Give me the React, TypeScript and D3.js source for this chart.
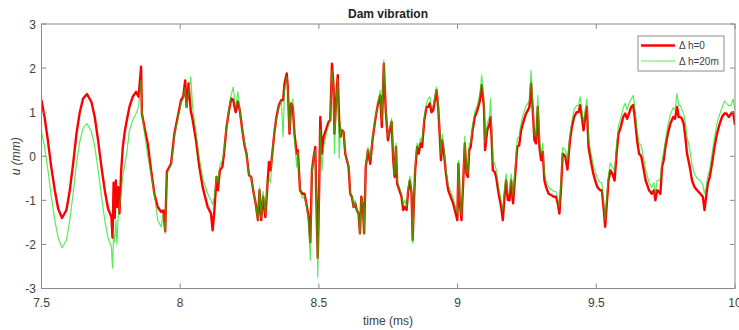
import React from "react";
import * as d3 from "d3";

const time = [
  7.5, 7.511, 7.523, 7.535, 7.548, 7.56, 7.574, 7.59, 7.602, 7.614, 7.626, 7.638, 7.65, 7.664, 7.68, 7.692, 7.704, 7.716, 7.728, 7.74,
  7.752, 7.756, 7.76, 7.764, 7.768, 7.772, 7.776, 7.781, 7.787, 7.793, 7.8, 7.807, 7.817, 7.829, 7.841, 7.85, 7.859, 7.862, 7.871, 7.883,
  7.895, 7.907, 7.919, 7.931, 7.939, 7.946, 7.952, 7.967, 7.979, 7.991, 8.003, 8.011, 8.018, 8.023, 8.03, 8.038, 8.045, 8.057, 8.069, 8.081,
  8.099, 8.111, 8.117, 8.123, 8.131, 8.136, 8.143, 8.152, 8.158, 8.167, 8.176, 8.184, 8.191, 8.2, 8.208, 8.215, 8.224, 8.232, 8.239, 8.248,
  8.256, 8.263, 8.272, 8.28, 8.286, 8.292, 8.299, 8.307, 8.314, 8.32, 8.326, 8.332, 8.339, 8.347, 8.356, 8.364, 8.371, 8.376, 8.384, 8.388,
  8.394, 8.4, 8.406, 8.412, 8.42, 8.424, 8.432, 8.44, 8.448, 8.457, 8.463, 8.469, 8.475, 8.481, 8.487, 8.493, 8.496, 8.501, 8.505, 8.511,
  8.517, 8.525, 8.535, 8.541, 8.547, 8.553, 8.556, 8.562, 8.568, 8.573, 8.578, 8.583, 8.589, 8.595, 8.601, 8.607, 8.613, 8.619, 8.625, 8.631,
  8.637, 8.643, 8.648, 8.653, 8.659, 8.663, 8.669, 8.677, 8.685, 8.693, 8.703, 8.713, 8.721, 8.727, 8.734, 8.741, 8.749, 8.753, 8.762, 8.768,
  8.773, 8.778, 8.782, 8.79, 8.798, 8.804, 8.81, 8.816, 8.822, 8.828, 8.834, 8.838, 8.842, 8.847, 8.854, 8.86, 8.866, 8.872, 8.88, 8.888,
  8.894, 8.9, 8.906, 8.912, 8.918, 8.924, 8.93, 8.936, 8.94, 8.945, 8.951, 8.958, 8.966, 8.975, 8.984, 8.993, 8.999, 9.003, 9.008, 9.014,
  9.02, 9.026, 9.032, 9.037, 9.042, 9.047, 9.054, 9.062, 9.071, 9.08, 9.087, 9.095, 9.099, 9.107, 9.115, 9.119, 9.124, 9.127, 9.133, 9.139,
  9.148, 9.157, 9.163, 9.169, 9.175, 9.181, 9.187, 9.193, 9.2, 9.208, 9.215, 9.222, 9.229, 9.239, 9.247, 9.253, 9.259, 9.265, 9.271, 9.277,
  9.283, 9.289, 9.295, 9.301, 9.307, 9.313, 9.319, 9.328, 9.337, 9.347, 9.355, 9.361, 9.367, 9.373, 9.379, 9.388, 9.396, 9.405, 9.412, 9.42,
  9.429, 9.436, 9.442, 9.448, 9.454, 9.46, 9.466, 9.472, 9.48, 9.489, 9.496, 9.504, 9.514, 9.52, 9.526, 9.532, 9.538, 9.544, 9.551, 9.558,
  9.566, 9.573, 9.58, 9.588, 9.597, 9.604, 9.611, 9.618, 9.626, 9.633, 9.64, 9.647, 9.654, 9.662, 9.669, 9.678, 9.69, 9.7, 9.708, 9.713,
  9.719, 9.725, 9.731, 9.737, 9.743, 9.749, 9.758, 9.767, 9.777, 9.784, 9.791, 9.797, 9.803, 9.809, 9.815, 9.821, 9.827, 9.837, 9.845, 9.854,
  9.863, 9.875, 9.884, 9.89, 9.896, 9.902, 9.909, 9.917, 9.926, 9.935, 9.945, 9.953, 9.962, 9.969, 9.978, 9.986, 9.993, 10.0,
];

const uDh0 = [
  1.27, 0.89, 0.36, -0.24, -0.77, -1.19, -1.4, -1.22, -0.77, -0.17, 0.51, 1.0, 1.31, 1.41, 1.23, 0.89, 0.36, -0.24, -0.77, -1.19,
  -1.38, -1.85, -0.6, -1.4, -0.55, -1.15, -0.7, -1.3, -0.35, 0.2, 0.55, 0.8, 1.12, 1.35, 1.46, 1.35, 2.03, 0.97, 0.66, 0.29,
  -0.32, -0.85, -1.15, -1.26, -1.23, -1.7, -0.35, -0.17, 0.51, 0.89, 1.27, 1.35, 1.72, 1.12, 1.65, 1.04, 0.82, 0.36, -0.24, -0.7,
  -1.15, -1.3, -1.68, -1.25, -0.47, -0.77, -0.32, -0.24, 0.06, 0.66, 1.04, 1.31, 1.28, 1.0, 1.24, 1.04, 0.59, 0.25, 0.06, -0.43,
  -0.47, -0.77, -1.07, -1.45, -0.77, -1.45, -0.92, -1.38, -0.7, -0.13, -0.32, 0.06, 0.51, 0.89, 1.16, 1.27, 1.27, 1.65, 1.88, 1.56,
  0.51, 1.2, 1.12, 0.51, 0.06, 0.14, -0.77, -0.85, -0.85, -1.15, -1.38, -1.95, -0.32, -0.02, 0.21, -1.6, -2.3, -0.7, 0.89, 0.06,
  0.44, 0.59, 0.78, 0.82, 2.1, 1.57, 0.51, 1.27, 1.84, 0.82, 0.44, 0.59, 0.55, 0.06, -0.09, -0.24, -0.85, -0.92, -1.15, -1.07,
  -1.23, -1.3, -1.75, -0.92, -1.15, -1.75, -0.24, 0.14, -0.17, 0.36, 0.82, 1.19, 1.38, 0.66, 2.1, 1.04, 0.36, 0.51, 0.78, -0.09,
  -0.47, 0.21, -0.62, -0.77, -0.92, -1.22, -1.15, -1.22, -0.77, -0.55, -0.85, -1.9, -1.15, -0.32, 0.21, 0.06, 0.29, 0.21, 0.82, 1.12,
  1.12, 1.2, 1.0, 1.04, 1.27, 1.5, 1.12, 0.44, -0.09, 0.36, 0.06, -0.39, -0.77, -0.92, -1.07, -1.3, -1.45, -0.17, -1.07, -1.45,
  -0.62, 0.29, -0.39, -0.47, 0.14, 0.21, 0.59, 0.89, 1.04, 1.25, 1.61, 1.12, 0.14, 0.59, 0.74, 0.89, 0.21, -0.32, -0.35, -0.47,
  -0.85, -1.15, -1.45, -0.92, -0.55, -0.99, -1.0, -0.55, -1.07, -0.39, 0.21, 0.25, 0.59, 0.82, 0.97, 1.04, 1.12, 1.65, 1.04, 0.36,
  0.29, 1.12, 0.21, -0.09, 0.1, -0.55, -0.7, -0.85, -0.88, -0.92, -0.92, -1.07, -1.3, -0.7, 0.06, 0.0, -0.3, 0.36, 0.66, 0.89,
  1.0, 1.0, 1.16, 0.89, 0.59, 0.89, 1.12, 0.21, -0.09, -0.39, -0.55, -0.7, -0.77, -0.77, -1.15, -1.6, -1.07, -0.55, -0.32, -0.4,
  -0.55, 0.06, 0.51, 0.66, 0.89, 0.97, 0.85, 0.97, 1.12, 1.16, 0.82, 0.36, 0.06, 0.0, -0.24, -0.55, -0.77, -0.85, -0.77, -1.0,
  -0.77, -0.8, -0.85, -0.24, -0.09, 0.21, 0.51, 0.74, 0.89, 0.85, 1.12, 0.89, 0.89, 0.85, 0.74, 0.44, 0.06, -0.24, -0.55, -0.7,
  -0.77, -0.85, -0.92, -1.22, -0.92, -0.62, -0.47, -0.17, 0.21, 0.51, 0.74, 0.89, 0.97, 0.97, 0.89, 0.97, 1.0, 0.71,
];

const uDh20 = [
  0.55, 0.22, -0.3, -0.9, -1.45, -1.85, -2.08, -1.9, -1.45, -0.85, -0.17, 0.33, 0.64, 0.74, 0.56, 0.22, -0.3, -0.9, -1.45, -1.85,
  -2.06, -2.54, -1.75, -1.95, -1.45, -2.0, -1.4, -1.15, -0.85, -0.47, -0.2, 0.05, 0.59, 0.82, 0.97, 1.12, 1.72, 1.0, 0.55, 0.0,
  -0.4, -0.85, -1.45, -1.6, -1.3, -1.75, -0.4, -0.2, 0.45, 0.85, 1.2, 1.3, 1.55, 1.1, 1.4, 1.8, 1.1, 0.55, -0.05, -0.5,
  -0.85, -1.0, -1.1, -0.92, -0.45, -0.6, -0.2, -0.1, 0.1, 0.66, 1.1, 1.4, 1.57, 1.1, 1.46, 1.05, 0.6, 0.3, 0.06, -0.43,
  -0.47, -0.77, -1.07, -1.45, -0.7, -1.4, -0.8, -1.3, -0.65, -0.5, -0.6, 0.1, 0.55, 0.85, 1.1, 1.25, 0.44, 1.5, 1.8, 1.5,
  0.55, 1.15, 1.3, 0.4, -0.24, 0.1, -0.8, -0.95, -0.9, -1.2, -1.5, -2.36, -0.4, -0.05, 0.15, -1.7, -2.74, -0.8, 0.6, -0.32,
  0.21, 0.45, 0.7, 0.8, 1.95, 1.5, 0.06, 1.2, 1.75, -0.05, 0.7, 0.5, 0.55, 0.06, -0.09, -0.2, -0.85, -0.9, -1.15, -1.0,
  -1.25, -1.3, -1.75, -0.95, -1.1, -1.75, -0.2, 0.2, -0.05, 0.4, 0.85, 1.2, 1.5, 0.8, 2.18, 1.1, 0.45, 0.55, 0.86, 0.0,
  -0.4, 0.3, -0.55, -0.7, -0.85, -1.1, -1.0, -1.15, -0.7, -0.45, -0.8, -1.97, -1.1, -0.25, 0.3, 0.2, 0.4, 0.35, 0.9, 1.2,
  1.3, 1.35, 1.1, 1.15, 1.35, 1.57, 1.2, 0.55, 0.05, 0.5, 0.15, -0.3, -0.65, -0.8, -0.95, -1.15, -1.3, -0.1, -1.0, -1.35,
  -0.55, 0.45, -0.3, -0.4, 0.3, 0.3, 0.7, 1.0, 1.15, 1.4, 1.84, 1.25, 0.3, 0.75, 0.9, 1.31, 0.4, -0.15, -0.15, -0.3,
  -0.7, -1.0, -1.22, -0.75, -0.4, -0.85, -0.85, -0.4, -0.9, -0.25, 0.4, 0.45, 0.75, 1.0, 1.15, 1.2, 1.25, 1.95, 1.15, 0.5,
  0.45, 1.38, 0.4, 0.05, 0.3, -0.4, -0.55, -0.7, -0.75, -0.8, -0.8, -0.95, -1.15, -0.55, 0.2, 0.15, -0.1, 0.5, 0.8, 1.05,
  1.15, 1.15, 1.35, 1.05, 0.75, 1.05, 1.3, 0.4, 0.1, -0.2, -0.35, -0.5, -0.6, -0.6, -1.0, -1.45, -0.9, -0.4, -0.15, -0.25,
  -0.35, 0.25, 0.7, 0.85, 1.1, 1.2, 1.05, 1.2, 1.3, 1.38, 1.05, 0.6, 0.3, 0.25, 0.0, -0.3, -0.6, -0.7, -0.6, -0.85,
  -0.55, -0.55, -0.5, -0.1, 0.1, 0.35, 0.7, 0.95, 1.1, 1.05, 1.42, 1.15, 1.15, 1.05, 0.95, 0.75, 0.45, 0.15, -0.2, -0.4,
  -0.5, -0.55, -0.65, -0.85, -0.7, -0.45, -0.3, 0.05, 0.4, 0.75, 0.95, 1.1, 1.25, 1.2, 1.15, 1.15, 1.3, 1.05,
];

const xTicks = [7.5, 8, 8.5, 9, 9.5, 10];
const yTicks = [-3, -2, -1, 0, 1, 2, 3];
const seriesNames = ["\u0394 h=0", "\u0394 h=20m"];
const seriesColors = ["#ff0000", "#00e000"];

const W = 739;
const H = 330;
const left = 41.5;
const right = 735;
const top = 24;
const bottom = 288.5;
const font = "'Liberation Sans', Arial, Helvetica, sans-serif";

export default function App() {
  const x = d3.scaleLinear().domain([7.5, 10]).range([left, right]);
  const y = d3.scaleLinear().domain([-3, 3]).range([bottom, top]);
  const mk = (vals: number[]) =>
    d3
      .line<number>()
      .x((_, i) => x(time[i]))
      .y((d) => y(d))(vals) || "";
  const tickLen = 5;
  const axisColor = "#8a8a8a";
  const textColor = "#404040";
  return (
    <div style={{ position: "absolute", left: 0, top: 0 }}>
      <svg width={W} height={H} style={{ display: "block", background: "#fff" }}>
        <defs>
          <clipPath id="plotclip">
            <rect x={left} y={top} width={right - left} height={bottom - top} />
          </clipPath>
        </defs>
        <rect x={0} y={0} width={W} height={H} fill="#fff" />
        <g clipPath="url(#plotclip)">
          <path d={mk(uDh0)} fill="none" stroke={seriesColors[0]} strokeWidth={2.4} strokeLinejoin="round" />
          <path d={mk(uDh20)} fill="none" stroke={seriesColors[1]} strokeWidth={1.2} strokeOpacity={0.65} strokeLinejoin="round" />
        </g>
        <rect x={left} y={top} width={right - left} height={bottom - top} fill="none" stroke={axisColor} strokeWidth={1} />
        {xTicks.map((t) => (
          <g key={"x" + t}>
            <line x1={x(t)} x2={x(t)} y1={bottom} y2={bottom - tickLen} stroke={axisColor} />
            <line x1={x(t)} x2={x(t)} y1={top} y2={top + tickLen} stroke={axisColor} />
            <text x={x(t)} y={307} fontSize={12} fontFamily={font} fill={textColor} textAnchor="middle">
              {String(t)}
            </text>
          </g>
        ))}
        {yTicks.map((v) => (
          <g key={"y" + v}>
            <line x1={left} x2={left + tickLen} y1={y(v)} y2={y(v)} stroke={axisColor} />
            <line x1={right} x2={right - tickLen} y1={y(v)} y2={y(v)} stroke={axisColor} />
            <text x={36} y={y(v) + 4.5} fontSize={12} fontFamily={font} fill={textColor} textAnchor="end">
              {String(v)}
            </text>
          </g>
        ))}
        <text x={388} y={18} fontSize={12} fontWeight="bold" fontFamily={font} fill="#222" textAnchor="middle">
          Dam vibration
        </text>
        <text x={388} y={325} fontSize={12} fontFamily={font} fill={textColor} textAnchor="middle">
          time (ms)
        </text>
        <text
          transform={`translate(20,${(top + bottom) / 2}) rotate(-90)`}
          fontSize={12}
          fontStyle="italic"
          fontFamily={font}
          fill={textColor}
          textAnchor="middle"
        >
          u (mm)
        </text>
        <g>
          <rect x={638} y={36} width={86} height={35} fill="#fff" stroke={axisColor} />
          <line x1={641} x2={675} y1={45.5} y2={45.5} stroke={seriesColors[0]} strokeWidth={2.4} />
          <line x1={641} x2={675} y1={61} y2={61} stroke={seriesColors[1]} strokeWidth={1.2} strokeOpacity={0.65} />
          <text x={679} y={49} fontSize={10} fontFamily={font} fill={textColor}>
            {seriesNames[0]}
          </text>
          <text x={679} y={64.5} fontSize={10} fontFamily={font} fill={textColor}>
            {seriesNames[1]}
          </text>
        </g>
      </svg>
    </div>
  );
}
